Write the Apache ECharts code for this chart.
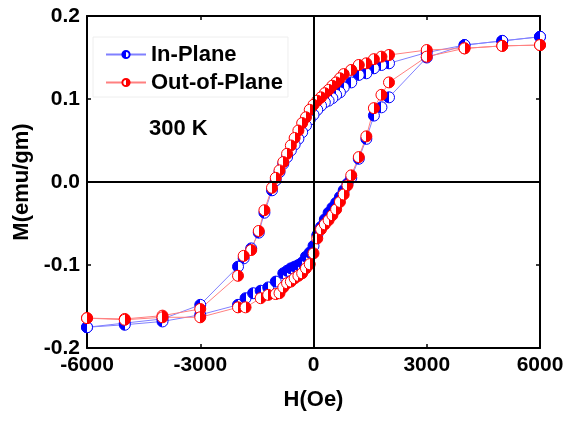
<!DOCTYPE html>
<html>
<head>
<meta charset="utf-8">
<script src="https://cdn.jsdelivr.net/npm/echarts@6/dist/echarts.min.js"></script>
<style>
  html, body { margin: 0; padding: 0; background: #fff; }
  #chart { width: 566px; height: 421px; }
</style>
</head>
<body>
<div id="chart"></div>
<script>
// field (Oe) and magnetisation (emu/gm)
const inDownH = [6000, 5000, 4000, 3000, 2000, 1800, 1600, 1400, 1200, 1000, 800, 700, 600, 500, 400, 300, 200, 100, 0,
  -100, -200, -300, -400, -500, -600, -700, -800, -900, -1000, -1100, -1300, -1450, -1650, -1850, -2000, -3000, -4000, -5000, -6000];
const inDownM = [0.175, 0.170, 0.165, 0.156, 0.143, 0.141, 0.137, 0.131, 0.129, 0.120, 0.114, 0.108, 0.105, 0.101, 0.098, 0.096, 0.092, 0.087, 0.081,
  0.075, 0.068, 0.060, 0.052, 0.045, 0.038, 0.030, 0.022, 0.012, 0.002, -0.010, -0.037, -0.061, -0.080, -0.092, -0.102, -0.148, -0.165, -0.170, -0.175];
const inUpH = [-6000, -5000, -4000, -3000, -2000, -1800, -1600, -1400, -1200, -1000, -800, -700, -600, -500, -400, -300, -200, -100, 0,
  100, 200, 300, 400, 500, 600, 700, 800, 900, 1000, 1200, 1400, 1600, 1800, 2000, 3000, 4000, 5000, 6000];
const inUpM = [-0.175, -0.172, -0.168, -0.160, -0.148, -0.140, -0.134, -0.131, -0.127, -0.120, -0.110, -0.107, -0.104, -0.102, -0.100, -0.097, -0.090, -0.085, -0.077,
  -0.064, -0.054, -0.045, -0.037, -0.031, -0.025, -0.018, -0.010, -0.002, 0.005, 0.028, 0.052, 0.080, 0.090, 0.102, 0.150, 0.165, 0.170, 0.175];

const outDownH = [6000, 5000, 4000, 3000, 2000, 1800, 1600, 1400, 1200, 1000, 800, 700, 600, 500, 400, 300, 200, 100, 0,
  -100, -200, -300, -400, -500, -600, -700, -800, -900, -1000, -1100, -1300, -1450, -1650, -1850, -2000, -3000, -4000, -5000, -6000];
const outDownM = [0.165, 0.164, 0.161, 0.159, 0.153, 0.151, 0.148, 0.143, 0.141, 0.135, 0.130, 0.125, 0.120, 0.116, 0.111, 0.107, 0.102, 0.098, 0.093,
  0.087, 0.078, 0.071, 0.062, 0.053, 0.044, 0.034, 0.024, 0.014, 0.005, -0.007, -0.034, -0.059, -0.082, -0.089, -0.113, -0.153, -0.161, -0.165, -0.164];
const outUpH = [-6000, -5000, -4000, -3000, -2000, -1800, -1400, -1200, -1000, -900, -800, -700, -600, -500, -400, -300, -200, -100, 0,
  100, 200, 300, 400, 500, 600, 700, 800, 900, 1000, 1200, 1400, 1600, 1800, 2000, 3000, 4000, 5000, 6000];
const outUpM = [-0.164, -0.166, -0.163, -0.163, -0.151, -0.151, -0.140, -0.136, -0.135, -0.134, -0.127, -0.122, -0.120, -0.116, -0.113, -0.110, -0.104, -0.099, -0.086,
  -0.068, -0.057, -0.051, -0.046, -0.040, -0.033, -0.024, -0.015, -0.004, 0.008, 0.030, 0.055, 0.089, 0.105, 0.120, 0.151, 0.161, 0.164, 0.165];

const seriesNames = ['In-Plane', 'Out-of-Plane'];
const xTicks = { min: -6000, max: 6000, step: 3000 };
const yTicks = { min: -0.2, max: 0.2, step: 0.1 };

const pairs = (hs, ms) => hs.map((h, i) => [h, ms[i]]);
const loop = (dh, dm, uh, um) => pairs(dh, dm).concat(pairs(uh, um));

// half filled circle: fill one side, white the other
const halfFill = (color, leftFilled) => ({
  type: 'linear', x: 0, y: 0, x2: 1, y2: 0,
  colorStops: leftFilled
    ? [{offset: 0, color: color}, {offset: 0.5, color: color}, {offset: 0.5, color: '#fff'}, {offset: 1, color: '#fff'}]
    : [{offset: 0, color: '#fff'}, {offset: 0.5, color: '#fff'}, {offset: 0.5, color: color}, {offset: 1, color: color}]
});

const font = '"Liberation Sans", Arial, sans-serif';

let chart = echarts.init(document.getElementById('chart'));
chart.setOption({
  animation: false,
  grid: {left: 87, right: 26, top: 16, bottom: 73, containLabel: false, outerBoundsMode: 'none'},
  legend: {
    orient: 'vertical',
    left: 93, top: 37,
    padding: [6, 5, 3, 12],
    itemGap: 5,
    itemWidth: 40,
    itemHeight: 9,
    borderColor: '#eeeeee',
    borderWidth: 1,
    textStyle: {fontFamily: font, fontWeight: 'bold', fontSize: 22, color: '#000', lineHeight: 23},
    data: seriesNames
  },
  graphic: [{
    type: 'text', left: 149, top: 118,
    style: {text: '300 K', fontFamily: font, fontWeight: 'bold', fontSize: 22, fill: '#000'}
  }],
  xAxis: [{
    type: 'value', min: xTicks.min, max: xTicks.max, interval: xTicks.step,
    name: 'H(Oe)', nameLocation: 'middle', nameGap: 41,
    nameTextStyle: {fontFamily: font, fontWeight: 'bold', fontSize: 22, color: '#000'},
    axisLine: {onZero: false, lineStyle: {color: '#000', width: 2}},
    axisTick: {inside: true, length: 4, lineStyle: {color: '#000', width: 1.5}},
    axisLabel: {margin: 7, fontFamily: font, fontWeight: 'bold', fontSize: 21, color: '#000',
      formatter: v => String(v)},
    splitLine: {show: false}
  }, {
    type: 'value', position: 'top', min: xTicks.min, max: xTicks.max, interval: xTicks.step,
    axisLine: {onZero: false, lineStyle: {color: '#000', width: 2}},
    axisTick: {inside: true, length: 4, lineStyle: {color: '#000', width: 1.5}},
    axisLabel: {show: false},
    splitLine: {show: false}
  }],
  yAxis: [{
    type: 'value', min: yTicks.min, max: yTicks.max, interval: yTicks.step,
    name: 'M(emu/gm)', nameLocation: 'middle', nameGap: 54,
    nameTextStyle: {fontFamily: font, fontWeight: 'bold', fontSize: 22, color: '#000'},
    axisLine: {onZero: false, lineStyle: {color: '#000', width: 2}},
    axisTick: {inside: true, length: 4, lineStyle: {color: '#000', width: 1.5}},
    axisLabel: {margin: 7, fontFamily: font, fontWeight: 'bold', fontSize: 21, color: '#000',
      formatter: v => v.toFixed(1)},
    splitLine: {show: false}
  }, {
    type: 'value', position: 'right', min: yTicks.min, max: yTicks.max, interval: yTicks.step,
    axisLine: {onZero: false, lineStyle: {color: '#000', width: 2}},
    axisTick: {inside: true, length: 4, lineStyle: {color: '#000', width: 1.5}},
    axisLabel: {show: false},
    splitLine: {show: false}
  }],
  series: [
    {
      name: seriesNames[0],
      type: 'line',
      data: loop(inDownH, inDownM, inUpH, inUpM),
      symbol: 'circle', symbolSize: 11,
      lineStyle: {color: '#8080ff', width: 1},
      itemStyle: {color: halfFill('#0000ff', true), borderColor: '#0000ff', borderWidth: 1},
      markLine: {
        silent: true, symbol: ['none', 'none'], label: {show: false},
        lineStyle: {color: '#000', width: 2, type: 'solid'},
        data: [{xAxis: 0}, {yAxis: 0}]
      }
    },
    {
      name: seriesNames[1],
      type: 'line',
      data: loop(outDownH, outDownM, outUpH, outUpM),
      symbol: 'circle', symbolSize: 11,
      lineStyle: {color: '#ff8080', width: 1},
      itemStyle: {color: halfFill('#ff0000', false), borderColor: '#ff0000', borderWidth: 1}
    }
  ]
});
</script>
</body>
</html>
